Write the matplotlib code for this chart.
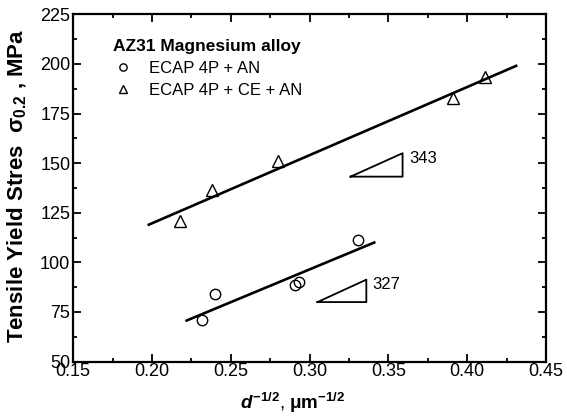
import matplotlib
matplotlib.use("Agg")
import matplotlib.pyplot as plt
from matplotlib.ticker import MultipleLocator, FormatStrFormatter

plt.rcParams["font.family"] = ["Liberation Sans", "DejaVu Sans"]
plt.rcParams["mathtext.fontset"] = "custom"
plt.rcParams["mathtext.rm"] = "Liberation Sans:bold"
plt.rcParams["mathtext.it"] = "Liberation Sans:italic:bold"
plt.rcParams["mathtext.bf"] = "Liberation Sans:bold"

# ECAP 4P + AN (circles)
x_an = [0.232, 0.240, 0.291, 0.293, 0.331]
y_an = [71, 84, 88.5, 90, 111.5]

# ECAP 4P + CE + AN (triangles)
x_ce = [0.218, 0.238, 0.280, 0.391, 0.411]
y_ce = [121, 136.5, 151, 183, 193.5]

# fitted lines (end points)
fit_ce_x = [0.198, 0.431]
fit_ce_y = [119, 199]
fit_an_x = [0.222, 0.341]
fit_an_y = [70.7, 110]

# slope triangles: (x0, y0, x1, y1, label)
slope_tri = [
    (0.326, 143.2, 0.359, 155.0, "343"),
    (0.305, 80.0, 0.336, 91.3, "327"),
]

fig = plt.figure(figsize=(5.67, 4.2), dpi=100)
ax = fig.add_axes([0.129, 0.139, 0.834, 0.827])

ax.plot(fit_ce_x, fit_ce_y, color="black", linewidth=1.9)
ax.plot(fit_an_x, fit_an_y, color="black", linewidth=1.9)

ax.plot(x_an, y_an, "o", mfc="none", mec="black", ms=7.5, mew=1.0,
        label="ECAP 4P + AN")
ax.plot(x_ce, y_ce, "^", mfc="none", mec="black", ms=8.5, mew=1.0,
        label="ECAP 4P + CE + AN")

for x0, y0, x1, y1, lab in slope_tri:
    ax.plot([x0, x1, x1, x0], [y0, y0, y1, y0], color="black", linewidth=1.3)
    ax.text(x1 + 0.004, y1 - 2.5, lab, fontsize=12, va="center", ha="left")

ax.set_xlim(0.15, 0.45)
ax.set_ylim(50, 225)
ax.xaxis.set_major_locator(MultipleLocator(0.05))
ax.xaxis.set_minor_locator(MultipleLocator(0.025))
ax.yaxis.set_major_locator(MultipleLocator(25))
ax.yaxis.set_minor_locator(MultipleLocator(12.5))
ax.xaxis.set_major_formatter(FormatStrFormatter("%.2f"))

ax.tick_params(which="both", direction="in", top=True, right=True,
               width=1.3, labelsize=13)
ax.tick_params(axis="x", pad=1)
ax.tick_params(axis="y", pad=2)
ax.tick_params(which="major", length=6)
ax.tick_params(which="minor", length=3)
for s in ax.spines.values():
    s.set_linewidth(1.6)

ax.set_xlabel(r"$d^{-1/2}$, $\mathrm{\mu m}^{-1/2}$", fontsize=13.5)
ax.xaxis.set_label_coords(0.465, -0.085, transform=ax.transAxes)
ax.set_ylabel(r"Tensile Yield Stres  $\mathbf{\sigma}_{0.2}$ , MPa", fontsize=16,
              fontweight="bold")
ax.yaxis.set_label_coords(-0.093, 0.505, transform=ax.transAxes)

leg = ax.legend(loc="upper left", bbox_to_anchor=(0.07, 0.949), frameon=False,
                title="AZ31 Magnesium alloy", fontsize=12, handletextpad=0.94,
                borderaxespad=0, labelspacing=0.43, handlelength=1.2,
                markerscale=0.7)
leg.get_title().set_fontweight("bold")
leg.get_title().set_fontsize(12.5)
leg._legend_box.align = "left"

fig.savefig("out.png", dpi=100)
